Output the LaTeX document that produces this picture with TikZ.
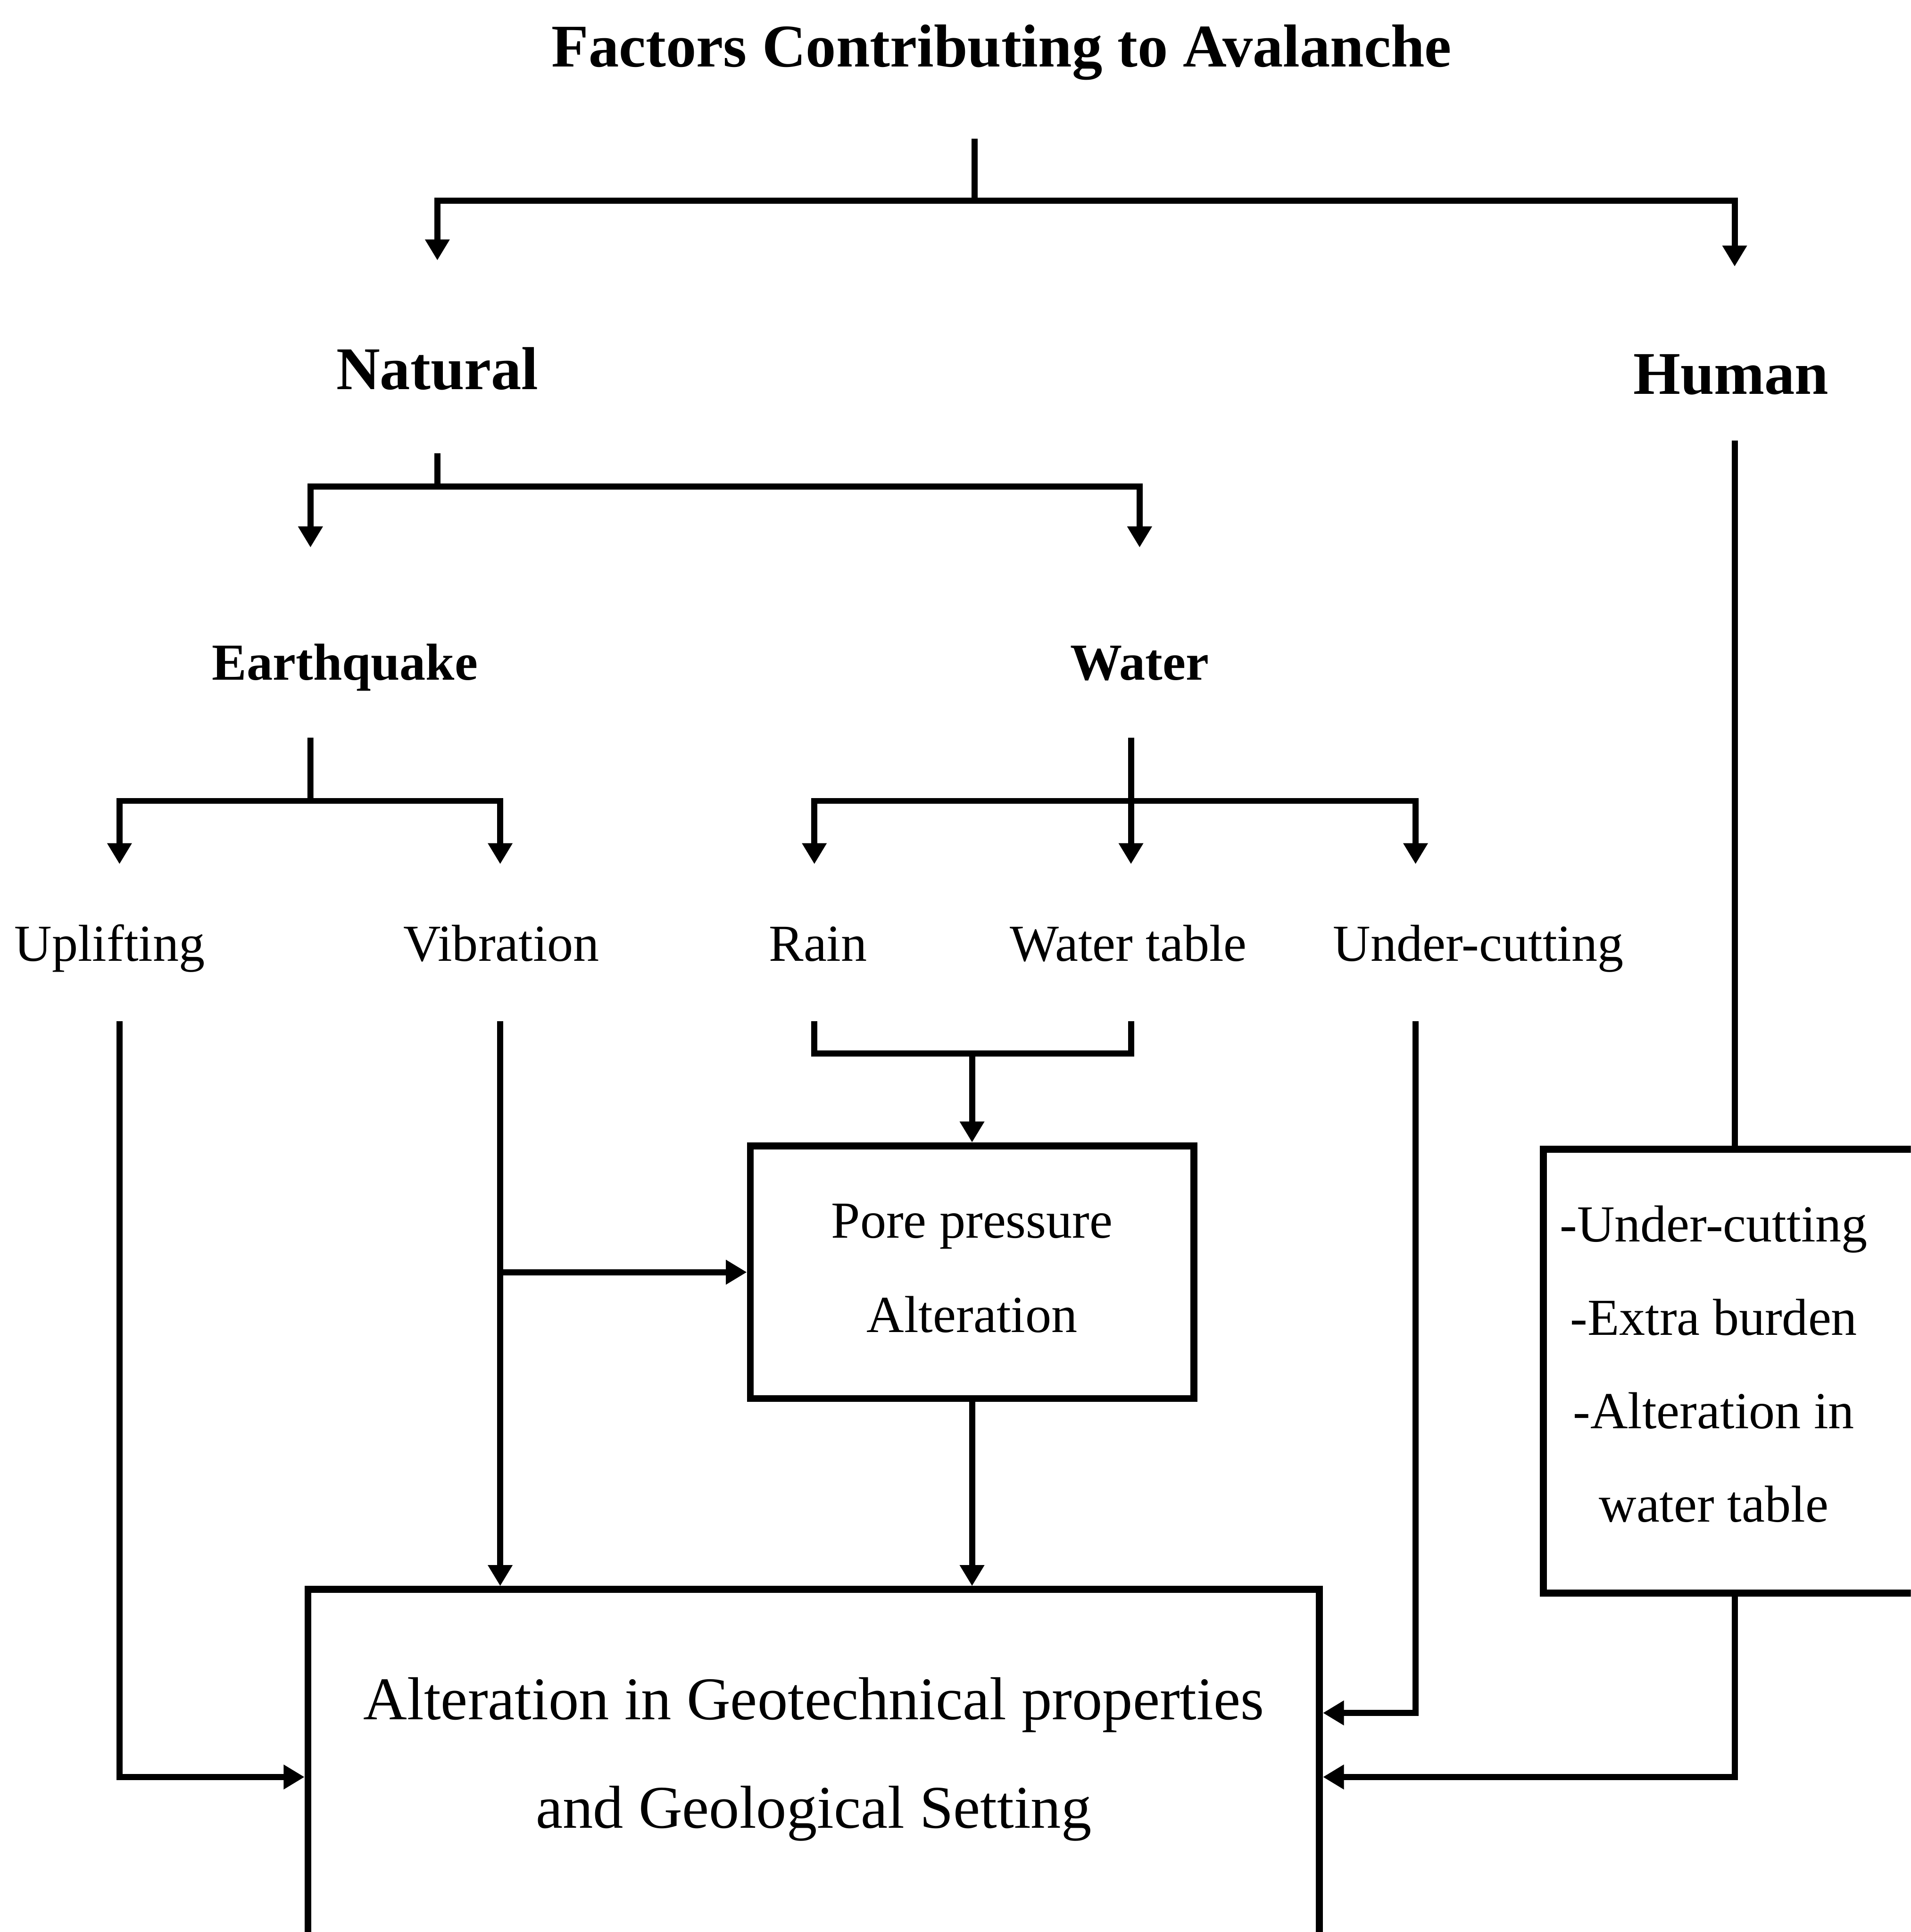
\documentclass[tikz,border=0pt]{standalone}
\usepackage{fontspec}
\setmainfont{Liberation Serif}
\usetikzlibrary{arrows.meta}
\newcommand\setfs[2]{\fontsize{#1}{#2}\selectfont}

\begin{document}
\begin{tikzpicture}[
  link/.style={draw,line width=1.4pt},
  arr/.style={link,-{Triangle[width=0.19cm,length=0.17cm]}},
  box/.style={draw,line width=1.6pt,inner sep=0pt},
  ttl/.style={anchor=base,inner sep=0pt,font=\bfseries\setfs{14}{16},text depth=0.58cm},
  head/.style={anchor=base,inner sep=0pt,font=\bfseries\setfs{14}{16},text height=1.04cm},
  sub/.style={anchor=base,inner sep=0pt,font=\bfseries\setfs{12}{14},text height=1.07cm,text depth=0.46cm},
  leaf/.style={anchor=base,inner sep=0pt,font=\setfs{12}{14},text height=0.78cm,text depth=0.48cm}]
  \path[use as bounding box,clip] (0,0) rectangle (15.51,-15.68);

  \node[ttl] (title) at (8.13,-0.54) {Factors Contributing to Avalanche};
  \node[head,text depth=0.51cm] (natural) at (3.55,-3.16) {Natural};
  \node[head,text height=1.03cm,text depth=0.37cm] (human) at (14.05,-3.20) {Human};
  \node[sub] (quake) at (2.80,-5.52) {Earthquake};
  \node[sub] (water) at (9.25,-5.52) {Water};
  \node[leaf] (uplift) at (0.89,-7.80) {Uplifting};
  \node[leaf] (vib) at (4.07,-7.80) {Vibration};
  \node[leaf] (rain) at (6.64,-7.80) {Rain};
  \node[leaf] (wtable) at (9.16,-7.80) {Water table};
  \node[leaf] (undercut) at (12.00,-7.80) {Under-cutting};

  \node[box,minimum width=3.6cm,minimum height=2.05cm,align=center,font=\setfs{12}{21.8},text depth=0.07cm] (pore) at (7.89,-10.325) {Pore pressure\\Alteration};
  \node[box,minimum width=8.21cm,minimum height=2.9cm,align=center,font=\setfs{14}{25},text depth=0.25cm] (geo) at (6.605,-14.35) {Alteration in Geotechnical properties\\and Geological Setting};
  \node[box,anchor=north west,minimum width=3.5cm,minimum height=3.6cm] (hbox) at (12.50,-9.30) {};
  \node[align=center,inner sep=0pt,font=\setfs{12}{21.6}] (hlist) at (13.91,-11.07) {-Under-cutting\\-Extra burden\\-Alteration in\\water table};

  \coordinate (top) at (7.91,-1.63);
  \draw[link] (title.south -| top) -- (top);
  \draw[arr] (top) -| (natural.north);
  \draw[arr] (top) -| ([xshift=0.03cm]human.north);

  \coordinate (nat) at (3.55,-3.95);
  \draw[link] (natural.south) -- (nat);
  \draw[arr] (nat) -| ([xshift=-0.28cm]quake.north);
  \draw[arr] (nat) -| (water.north);

  \coordinate (eq) at (2.52,-6.50);
  \draw[link] ([xshift=-0.28cm]quake.south) -- (eq);
  \draw[arr] (eq) -| ([xshift=0.08cm]uplift.north);
  \draw[arr] (eq) -| ([xshift=-0.01cm]vib.north);

  \coordinate (wt) at (9.18,-6.50);
  \draw[arr] (water.south -| wt) -- (wt |- wtable.north);
  \draw[arr] (wt) -| ([xshift=-0.03cm]rain.north);
  \draw[arr] (wt) -| ([xshift=-0.51cm]undercut.north);

  \coordinate (rw) at (7.89,-8.55);
  \draw[link] ([xshift=-0.03cm]rain.south) |- (rw) -| (wt |- wtable.south);
  \draw[arr] (rw) -- (pore.north);

  \draw[arr] ([xshift=-0.01cm]vib.south) -- ([xshift=-0.01cm]vib.south |- geo.north);
  \draw[arr] ([xshift=-0.01cm]vib.south |- pore.west) -- (pore.west);
  \draw[arr] (pore.south) -- (pore.south |- geo.north);
  \draw[arr] ([xshift=0.08cm]uplift.south) |- ([yshift=-1.55cm]geo.north west);
  \draw[arr] ([xshift=-0.51cm]undercut.south) |- ([yshift=-1.03cm]geo.north east);

  \draw[link] ([xshift=0.03cm]human.south) -- ([xshift=0.03cm]human.south |- hbox.north);
  \draw[arr] ([xshift=0.03cm]human.south |- hbox.south) |- ([yshift=-1.55cm]geo.north east);
\end{tikzpicture}
\end{document}
